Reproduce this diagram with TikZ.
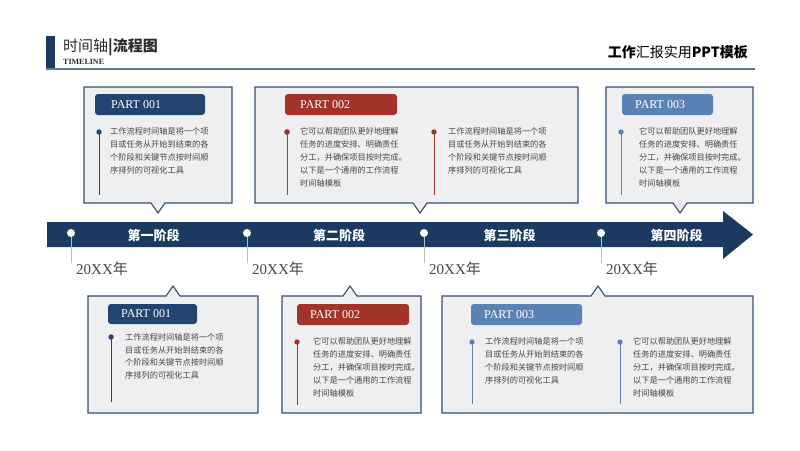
\documentclass[tikz,border=0pt]{standalone}
\usepackage{fontspec}
\setmainfont{Liberation Serif}
\newfontfamily\cjk{Noto Sans CJK SC}
\newfontfamily\lserif{Liberation Serif}

\definecolor{navy}{HTML}{1C3A5F}
\definecolor{navylabel}{HTML}{21456F}
\definecolor{redlabel}{HTML}{A23328}
\definecolor{bluelabel}{HTML}{5B82B5}
\definecolor{boxfill}{HTML}{EFEFF1}
\definecolor{boxborder}{HTML}{34506F}
\definecolor{bodytext}{HTML}{474747}
\definecolor{hdrline}{HTML}{5F7A94}
\definecolor{titletext}{HTML}{2B2B2B}
\definecolor{tick}{HTML}{BDBDBD}
\definecolor{grayline}{HTML}{4F5F75}

\newcommand\txtA{工作流程时间轴是将一个项\\目或任务从开始到结束的各\\个阶段和关键节点按时间顺\\序排列的可视化工具}
\newcommand\txtB{它可以帮助团队更好地理解\\任务的进度安排、明确责任\\分工，并确保项目按时完成。\\以下是一个通用的工作流程\\时间轴模板}

\newcommand\topcallout[5]{\draw[callout] (#1,#2) -- (#3,#2) -- (#3,#4) -- (#5+7,#4) -- (#5,#4+10) -- (#5-7,#4) -- (#1,#4) -- cycle;}
\newcommand\botcallout[5]{\draw[callout] (#1,#2) -- (#5-7,#2) -- (#5,#2-10) -- (#5+7,#2) -- (#3,#2) -- (#3,#4) -- (#1,#4) -- cycle;}
\newcommand\bulletline[4]{\draw[#1, line width=1pt] (#2,#3) -- (#2,#4); \fill[#1] (#2,#3) circle (2.7);}

\begin{document}
\begin{tikzpicture}[x=1pt,y=-1pt,
  callout/.style={fill=boxfill, draw=boxborder, line width=1.1pt, line join=miter},
  parttext/.style={text=white, font=\lserif\fontsize{12}{12}\selectfont, anchor=west, inner sep=0},
  body/.style={anchor=north west, inner sep=0, align=left, text=bodytext, font=\cjk\fontsize{8.2}{12.9}\selectfont},
  stage/.style={text=white, font=\cjk\bfseries\fontsize{13}{13}\selectfont, inner sep=0},
  yearlbl/.style={anchor=west, inner sep=0, text=bodytext, font=\fontsize{15}{15}\selectfont},
  dot/.style={circle, fill=white, inner sep=0, minimum size=8pt}]
\useasboundingbox (0,0) rectangle (800,450);
\fill[white] (0,0) rectangle (800,450);

% header
\fill[navy] (46,36) rectangle (55,68.5);
\draw[hdrline, line width=2pt] (46,69) -- (755,69);
\node[anchor=west, inner sep=0, text=titletext, font=\cjk\fontsize{15}{15}\selectfont] (title) at (63,47) {时间轴{\bfseries |流程图}};
\node[anchor=west, inner sep=0, text=titletext, font=\lserif\bfseries\fontsize{8}{8}\selectfont] (sub) at (63,62) {TIMELINE};
\node[anchor=east, inner sep=0, text=black, font=\cjk\fontsize{14}{14}\selectfont] (rtitle) at (748,52) {{\bfseries 工作}汇报实用{\bfseries PPT模板}};

% timeline arrow
\fill[navy] (47,222) -- (723,222) -- (723,211) -- (753,234.5) -- (723,259) -- (723,247) -- (47,247) -- cycle;
\foreach \i/\x/\s/\c in {1/71/第一阶段/153.5, 2/247/第二阶段/339, 3/424/第三阶段/509.5, 4/601/第四阶段/676.5}{
  \draw[tick, line width=0.8pt] (\x,233) -- (\x,263);
  \node[dot] (d\i) at (\x,233) {};
  \node[stage] (s\i) at (\c,235) {\s};
  \node[yearlbl] (y\i) at (\x+5,269) {20XX{\cjk 年}};
}

% top boxes
\topcallout{84}{87}{232}{203}{158}
\fill[navylabel, rounded corners=3pt] (95,94) rectangle (205,115);
\node[parttext] (p1) at (111,104.5) {PART 001};
\bulletline{navylabel}{99}{132}{195}
\node[body] (t1) at (110,127.5) {\txtA};

\topcallout{255}{87}{578}{203}{420}
\fill[redlabel, rounded corners=3pt] (285,94) rectangle (397,115);
\node[parttext] (p2) at (300,104.5) {PART 002};
\bulletline{grayline}{287}{132}{195}
\fill[redlabel] (287,132) circle (2.7);
\node[body] (t2) at (300,127.5) {\txtB};
\bulletline{redlabel}{434}{132}{195}
\node[body] (t3) at (448,127.5) {\txtA};

\topcallout{606}{87}{753}{203}{680}
\fill[bluelabel, rounded corners=3pt] (622,94) rectangle (713,115);
\node[parttext] (p3) at (635,104.5) {PART 003};
\bulletline{bluelabel}{621}{132}{195}
\node[body] (t4) at (639,127.5) {\txtB};

% bottom boxes
\botcallout{88}{296}{258}{413}{173}
\fill[navylabel, rounded corners=3pt] (108,304) rectangle (197,324);
\node[parttext] (p4) at (121,314) {PART 001};
\bulletline{navylabel}{111}{337}{402}
\node[body] (t5) at (125,333) {\txtA};

\botcallout{282}{296}{421}{413}{350}
\fill[redlabel, rounded corners=3pt] (297,304) rectangle (409,325);
\node[parttext] (p5) at (310,314.5) {PART 002};
\bulletline{redlabel}{297}{342}{405}
\node[body] (t6) at (313,337.5) {\txtB};

\botcallout{442}{296}{753}{413}{598}
\fill[bluelabel, rounded corners=3pt] (471,304) rectangle (582,325);
\node[parttext] (p6) at (484,314.5) {PART 003};
\bulletline{bluelabel}{472}{342}{404}
\node[body] (t7) at (485,337.5) {\txtA};
\bulletline{bluelabel}{620}{342}{404}
\node[body] (t8) at (633,337.5) {\txtB};
\end{tikzpicture}
\end{document}
